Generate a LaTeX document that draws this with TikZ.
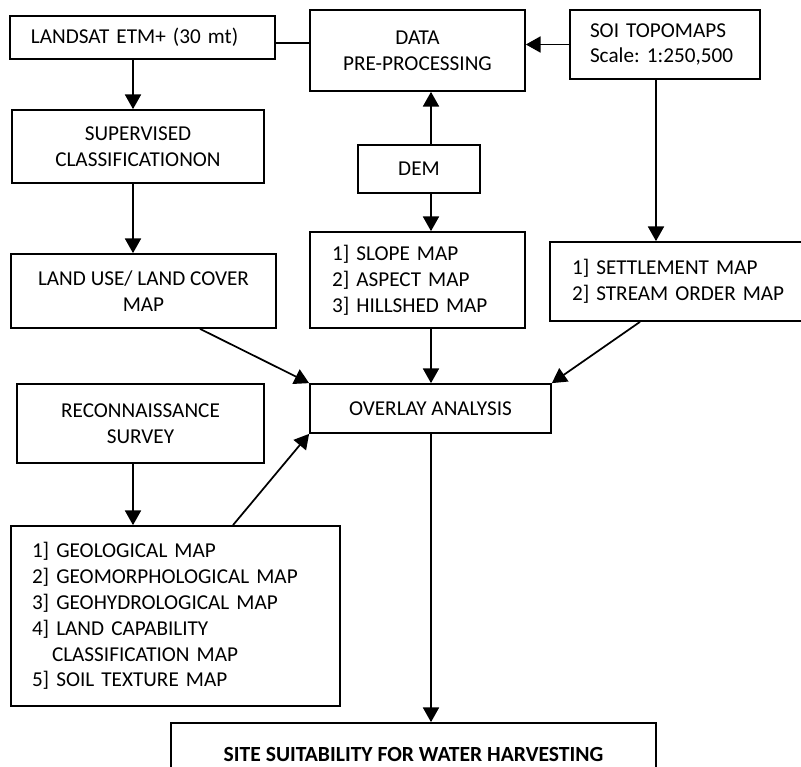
\documentclass[tikz,border=0pt]{standalone}
\usepackage{fontspec}
\setmainfont{Carlito}
\usetikzlibrary{arrows.meta}
\begin{document}
\frenchspacing
\begin{tikzpicture}[x=0.75pt,y=-0.75pt,
  every node/.style={font=\fontsize{15.9}{19.4}\selectfont},
  bx/.style n args={2}{draw, line width=1.3pt, rectangle, inner ysep=0pt,
    minimum width=#1*0.75pt, minimum height=#2*0.75pt},
  ctr/.style={align=center, inner xsep=4pt},
  lft/.style n args={2}{align=left, inner xsep=#2*0.75pt, text width=(#1-2*#2)*0.75pt},
  arr/.style={line width=1.3pt, -{Triangle[length=11pt,width=12pt]}},
  ln/.style={line width=1.3pt}]
\useasboundingbox (0,0) rectangle (801,767);

\node[bx={265}{43}, lft={265}{21}] (landsat) at (142.5,37.5) {LANDSAT ETM+ (30 mt)};
\node[bx={215}{81}, ctr] (data) at (417.5,50.5) {DATA\\PRE-PROCESSING};
\node[bx={190}{69}, lft={190}{20}] (soi) at (665,44.5) {SOI TOPOMAPS\\Scale: 1:250,500};
\node[bx={252}{73}, ctr] (sup) at (138,146.5) {SUPERVISED\\CLASSIFICATIONON};
\node[bx={122}{48}, ctr] (dem) at (419,169) {DEM};
\node[bx={215}{96}, lft={215}{22}] (slope) at (417.5,280) {1] SLOPE MAP\\2] ASPECT MAP\\3] HILLSHED MAP};
\node[bx={265}{74}, ctr] (landuse) at (143.5,291) {LAND USE/ LAND COVER\\MAP};
\node[bx={265}{79}, lft={265}{22}] (settle) at (682.5,281.5) {1] SETTLEMENT MAP\\2] STREAM ORDER MAP};
\node[bx={241}{49}, ctr] (overlay) at (430.5,408.5) {OVERLAY ANALYSIS};
\node[bx={247}{79}, ctr] (recon) at (140.5,423.5) {RECONNAISSANCE\\SURVEY};
\node[bx={329}{180}, lft={329}{21}] (geo) at (175.5,616) {1] GEOLOGICAL MAP\\2] GEOMORPHOLOGICAL MAP\\3] GEOHYDROLOGICAL MAP\\4] LAND CAPABILITY\\\hspace*{15pt}CLASSIFICATION MAP\\5] SOIL TEXTURE MAP};
\node[bx={485}{62}, ctr, font=\fontsize{16.2}{19.4}\selectfont\bfseries] (site) at (413.5,754) {SITE SUITABILITY FOR WATER HARVESTING};

\coordinate (colA) at (133,0);
\coordinate (colD) at (431,0);
\coordinate (colS) at (656,0);
\coordinate (colL) at (200,0);
\coordinate (colT) at (640,0);
\coordinate (colG) at (233,0);

\draw[ln] ([yshift=-4.1pt]landsat.east) coordinate (lsE) -- (data.west |- lsE);
\draw[arr] (soi.west) -- (data.east |- soi.west);
\draw[arr] (landsat.south -| colA) -- (sup.north -| colA);
\draw[arr] (sup.south -| colA) -- (landuse.north -| colA);
\draw[arr] (dem.north -| colD) -- (data.south -| colD);
\draw[arr] (dem.south -| colD) -- (slope.north -| colD);
\draw[arr] (slope.south -| colD) -- (overlay.north -| colD);
\draw[arr] (soi.south -| colS) -- (settle.north -| colS);
\draw[arr] (landuse.south -| colL) -- (overlay.north west);
\draw[arr] (settle.south -| colT) -- (overlay.north east);
\draw[arr] (recon.south -| colA) -- (geo.north -| colA);
\draw[arr] (geo.north -| colG) -- (overlay.south west);
\draw[arr] (overlay.south -| colD) -- (site.north -| colD);
\end{tikzpicture}
\end{document}
